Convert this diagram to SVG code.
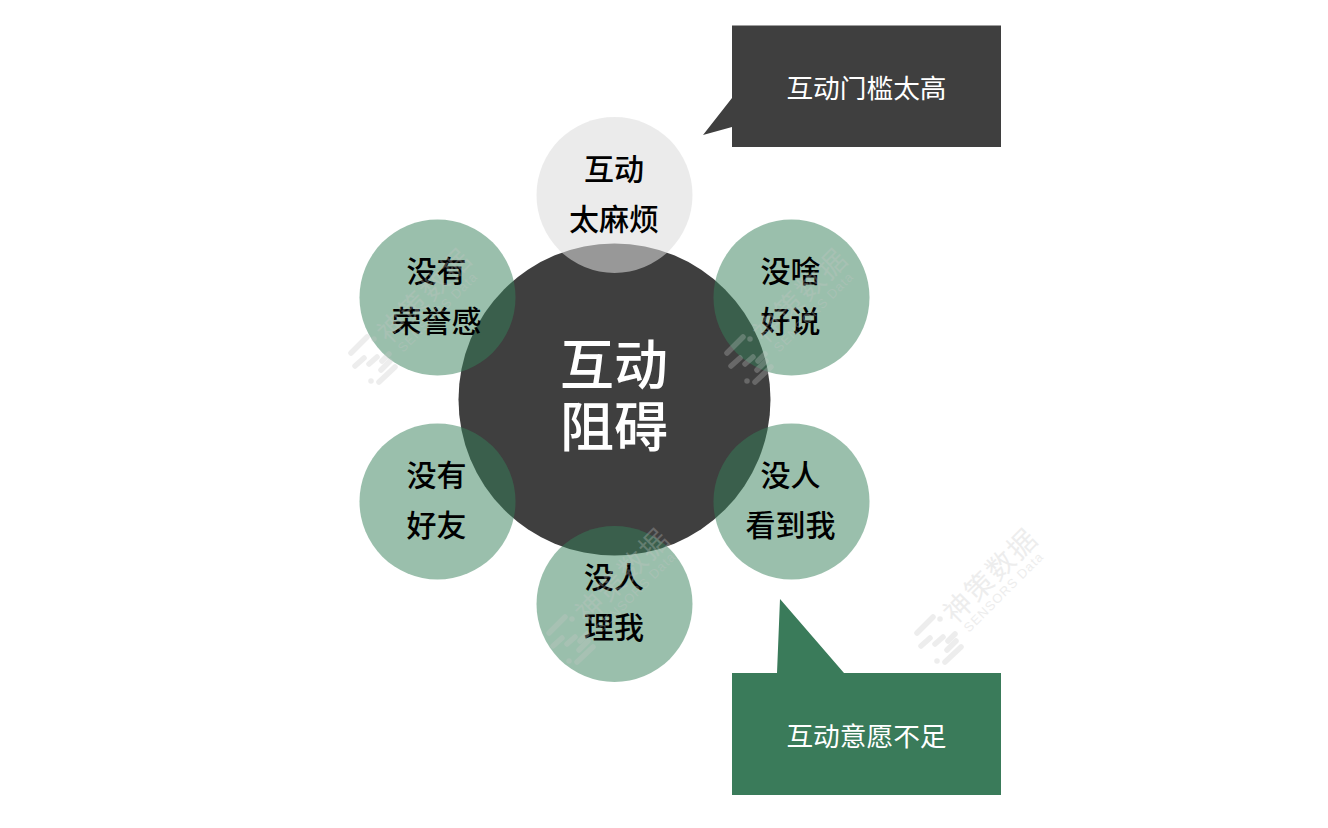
<svg xmlns="http://www.w3.org/2000/svg" xmlns:xlink="http://www.w3.org/1999/xlink" width="1328" height="828" viewBox="0 0 1328 828">
<style>
text{font-family:"Noto Sans CJK SC","Noto Sans",sans-serif;text-anchor:middle}
.g{fill:#36805a;fill-opacity:.5}
.t{font-size:30px;font-weight:500;fill:#000}
.c{font-size:54px;font-weight:500;fill:#fff}
.b{font-size:26.700px;font-weight:400;fill:#fff}
.w1{font-size:28px;font-weight:400;fill:#c6c6c6;letter-spacing:2px}
.w2{font-size:13px;fill:#c6c6c6;font-family:"Liberation Sans",sans-serif;letter-spacing:1px}
.wl{stroke:#c6c6c6;stroke-width:5.500;stroke-linecap:round;fill:none}
</style>
<defs>
<g id="wm" opacity=".3">
<g transform="rotate(-45)">
<text class="w1" x="23" y="1.500" style="text-anchor:start">神策数据</text>
<text class="w2" x="27" y="17" style="text-anchor:start">SENSORS Data</text>
</g>
<g class="wl">
<path d="M-21 -7L-5 -23"/><path d="M2 -21L2 -21"/>
<path d="M-17 6L-8 -2"/><path d="M-3 4L5 -3"/><path d="M10 1L17 -6"/>
<path d="M9 10L18 1"/><path d="M7 22L23 7"/><path d="M-1 21L-1 21"/>
</g>
</g>
</defs>
<g id="center">
<circle cx="614.5" cy="399.5" r="156" fill="#3f3f3f"/>
<text class="c" x="614" y="385">互动</text>
<text class="c" x="614" y="447">阻碍</text>
</g>
<g id="node-top">
<circle cx="614.5" cy="195" r="78" fill="#dbdbdb" fill-opacity=".57"/>
<text class="t" x="614" y="180">互动</text>
<text class="t" x="614" y="230">太麻烦</text>
</g>
<g id="node-ur">
<circle class="g" cx="791.5" cy="297.5" r="78"/>
<text class="t" x="790.500" y="282">没啥</text>
<text class="t" x="790.500" y="332">好说</text>
</g>
<g id="node-lr">
<circle class="g" cx="791.5" cy="501.5" r="78"/>
<text class="t" x="790.500" y="486">没人</text>
<text class="t" x="790.500" y="536">看到我</text>
</g>
<g id="node-bottom">
<circle class="g" cx="614.5" cy="604" r="78"/>
<text class="t" x="614" y="588">没人</text>
<text class="t" x="614" y="638">理我</text>
</g>
<g id="node-ll">
<circle class="g" cx="437.5" cy="501.5" r="78"/>
<text class="t" x="436.500" y="486">没有</text>
<text class="t" x="436.500" y="536">好友</text>
</g>
<g id="node-ul">
<circle class="g" cx="437.5" cy="297.5" r="78"/>
<text class="t" x="436.500" y="282">没有</text>
<text class="t" x="436.500" y="332">荣誉感</text>
</g>
<g id="callout-top">
<path d="M732 25.500H1001V147H732V127L703 135L732 98Z" fill="#3f3f3f"/>
<text class="b" x="866.500" y="98">互动门槛太高</text>
</g>
<g id="callout-bottom">
<path d="M732 673H777L780 599L844 673H1001V795H732Z" fill="#3a7b5a"/>
<text class="b" x="866.500" y="746">互动意愿不足</text>
</g>
<g id="connectors"></g>
<g id="watermarks">
<use xlink:href="#wm" href="#wm" x="372" y="360"/>
<use xlink:href="#wm" href="#wm" x="748" y="360"/>
<use xlink:href="#wm" href="#wm" x="570" y="640"/>
<use xlink:href="#wm" href="#wm" x="938" y="640"/>
</g>
</svg>
